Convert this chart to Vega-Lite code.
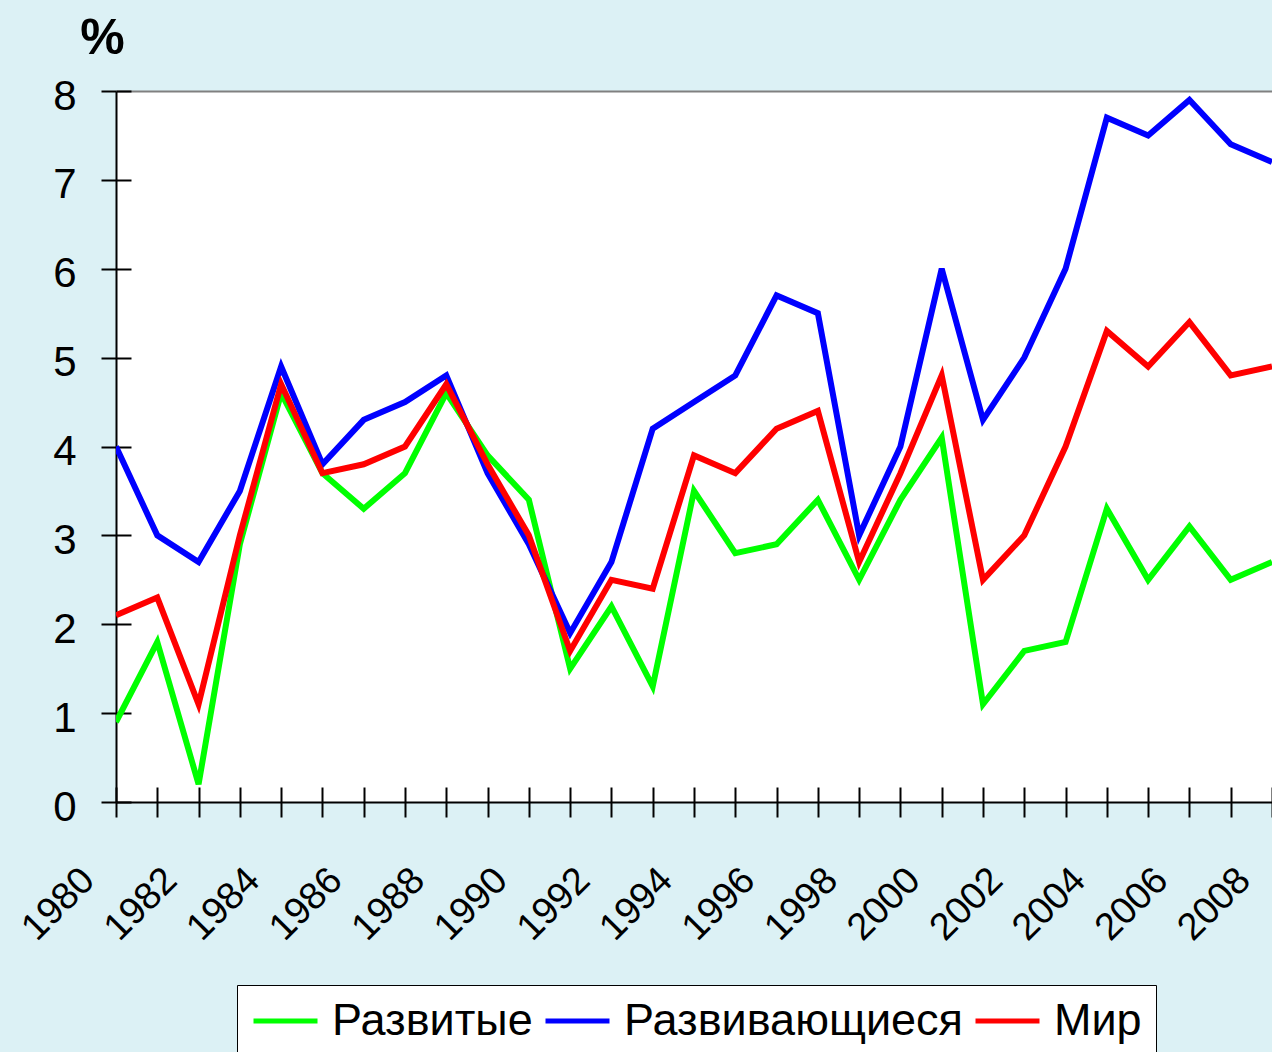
{
  "$schema": "https://vega.github.io/schema/vega-lite/v6.json",
  "width": 1156,
  "height": 711,
  "autosize": {"type": "none"},
  "padding": {"left": 116, "top": 91, "right": 0, "bottom": 250},
  "background": "#dcf1f5",
  "config": {
    "view": {"fill": "white", "stroke": null},
    "font": "Liberation Sans"
  },
  "data": {"values": [
    {"year":1980,"series":"Развитые","value":0.9},{"year":1981,"series":"Развитые","value":1.8},{"year":1982,"series":"Развитые","value":0.2},{"year":1983,"series":"Развитые","value":2.9},{"year":1984,"series":"Развитые","value":4.6},{"year":1985,"series":"Развитые","value":3.7},{"year":1986,"series":"Развитые","value":3.3},{"year":1987,"series":"Развитые","value":3.7},{"year":1988,"series":"Развитые","value":4.6},{"year":1989,"series":"Развитые","value":3.9},{"year":1990,"series":"Развитые","value":3.4},{"year":1991,"series":"Развитые","value":1.5},{"year":1992,"series":"Развитые","value":2.2},{"year":1993,"series":"Развитые","value":1.3},{"year":1994,"series":"Развитые","value":3.5},{"year":1995,"series":"Развитые","value":2.8},{"year":1996,"series":"Развитые","value":2.9},{"year":1997,"series":"Развитые","value":3.4},{"year":1998,"series":"Развитые","value":2.5},{"year":1999,"series":"Развитые","value":3.4},{"year":2000,"series":"Развитые","value":4.1},{"year":2001,"series":"Развитые","value":1.1},{"year":2002,"series":"Развитые","value":1.7},{"year":2003,"series":"Развитые","value":1.8},{"year":2004,"series":"Развитые","value":3.3},{"year":2005,"series":"Развитые","value":2.5},{"year":2006,"series":"Развитые","value":3.1},{"year":2007,"series":"Развитые","value":2.5},{"year":2008,"series":"Развитые","value":2.7},
    {"year":1980,"series":"Развивающиеся","value":4.0},{"year":1981,"series":"Развивающиеся","value":3.0},{"year":1982,"series":"Развивающиеся","value":2.7},{"year":1983,"series":"Развивающиеся","value":3.5},{"year":1984,"series":"Развивающиеся","value":4.9},{"year":1985,"series":"Развивающиеся","value":3.8},{"year":1986,"series":"Развивающиеся","value":4.3},{"year":1987,"series":"Развивающиеся","value":4.5},{"year":1988,"series":"Развивающиеся","value":4.8},{"year":1989,"series":"Развивающиеся","value":3.7},{"year":1990,"series":"Развивающиеся","value":2.9},{"year":1991,"series":"Развивающиеся","value":1.9},{"year":1992,"series":"Развивающиеся","value":2.7},{"year":1993,"series":"Развивающиеся","value":4.2},{"year":1994,"series":"Развивающиеся","value":4.5},{"year":1995,"series":"Развивающиеся","value":4.8},{"year":1996,"series":"Развивающиеся","value":5.7},{"year":1997,"series":"Развивающиеся","value":5.5},{"year":1998,"series":"Развивающиеся","value":3.0},{"year":1999,"series":"Развивающиеся","value":4.0},{"year":2000,"series":"Развивающиеся","value":6.0},{"year":2001,"series":"Развивающиеся","value":4.3},{"year":2002,"series":"Развивающиеся","value":5.0},{"year":2003,"series":"Развивающиеся","value":6.0},{"year":2004,"series":"Развивающиеся","value":7.7},{"year":2005,"series":"Развивающиеся","value":7.5},{"year":2006,"series":"Развивающиеся","value":7.9},{"year":2007,"series":"Развивающиеся","value":7.4},{"year":2008,"series":"Развивающиеся","value":7.2},
    {"year":1980,"series":"Мир","value":2.1},{"year":1981,"series":"Мир","value":2.3},{"year":1982,"series":"Мир","value":1.1},{"year":1983,"series":"Мир","value":3.0},{"year":1984,"series":"Мир","value":4.7},{"year":1985,"series":"Мир","value":3.7},{"year":1986,"series":"Мир","value":3.8},{"year":1987,"series":"Мир","value":4.0},{"year":1988,"series":"Мир","value":4.7},{"year":1989,"series":"Мир","value":3.8},{"year":1990,"series":"Мир","value":3.0},{"year":1991,"series":"Мир","value":1.7},{"year":1992,"series":"Мир","value":2.5},{"year":1993,"series":"Мир","value":2.4},{"year":1994,"series":"Мир","value":3.9},{"year":1995,"series":"Мир","value":3.7},{"year":1996,"series":"Мир","value":4.2},{"year":1997,"series":"Мир","value":4.4},{"year":1998,"series":"Мир","value":2.7},{"year":1999,"series":"Мир","value":3.7},{"year":2000,"series":"Мир","value":4.8},{"year":2001,"series":"Мир","value":2.5},{"year":2002,"series":"Мир","value":3.0},{"year":2003,"series":"Мир","value":4.0},{"year":2004,"series":"Мир","value":5.3},{"year":2005,"series":"Мир","value":4.9},{"year":2006,"series":"Мир","value":5.4},{"year":2007,"series":"Мир","value":4.8},{"year":2008,"series":"Мир","value":4.9}
  ]},
  "layer": [
    {
      "mark": {"type": "line", "strokeWidth": 6, "clip": true},
      "encoding": {
        "x": {
          "field": "year", "type": "quantitative",
          "scale": {"domain": [1980, 2008], "nice": false, "zero": false},
          "axis": {
            "orient": "bottom",
            "values": [1980,1981,1982,1983,1984,1985,1986,1987,1988,1989,1990,1991,1992,1993,1994,1995,1996,1997,1998,1999,2000,2001,2002,2003,2004,2005,2006,2007,2008],
            "format": "d",
            "labelExpr": "datum.value % 2 == 0 ? datum.label : ''",
            "labelAngle": -45, "labelAlign": "right", "labelBaseline": "alphabetic",
            "labelFontSize": 38, "labelColor": "black", "labelOffset": -20, "labelPadding": 65,
            "labelOverlap": false, "labelBound": false, "labelFlush": false,
            "tickSize": 15, "tickWidth": 2, "tickColor": "black",
            "domainColor": "black", "domainWidth": 2,
            "grid": false, "title": null
          }
        },
        "y": {
          "field": "value", "type": "quantitative",
          "scale": {"domain": [0, 8], "nice": false},
          "axis": {
            "orient": "left",
            "values": [0,1,2,3,4,5,6,7,8],
            "labelFontSize": 42, "labelColor": "black", "labelPadding": 25, "labelOffset": 5, "labelFlush": false,
            "tickSize": 15, "tickWidth": 2, "tickColor": "black",
            "domainColor": "black", "domainWidth": 2, "grid": false,
            "title": "%", "titleAngle": 0, "titleFontSize": 50, "titleFontWeight": "bold",
            "titleColor": "black", "titleX": -14, "titleY": -38,
            "titleAlign": "center", "titleBaseline": "alphabetic"
          }
        },
        "color": {
          "field": "series", "type": "nominal",
          "scale": {"domain": ["Развитые", "Развивающиеся", "Мир"], "range": ["#00ff00", "#0000ff", "#ff0000"]},
          "legend": {
            "orient": "none", "legendX": 121, "legendY": 894,
            "direction": "horizontal", "title": null,
            "symbolType": "stroke", "symbolSize": 4096, "symbolStrokeWidth": 5,
            "clipHeight": 44,
            "labelFontSize": 45, "labelColor": "black", "labelOffset": 12,
            "columnPadding": 10, "padding": 14,
            "fillColor": "white", "strokeColor": "black",
            "labelLimit": 500
          }
        }
      }
    },
    {
      "mark": {"type": "line", "strokeOpacity": 0},
      "encoding": {
        "x": {
          "field": "year", "type": "quantitative",
          "axis": {
            "orient": "bottom",
            "values": [1980,1981,1982,1983,1984,1985,1986,1987,1988,1989,1990,1991,1992,1993,1994,1995,1996,1997,1998,1999,2000,2001,2002,2003,2004,2005,2006,2007,2008],
            "labels": false, "domain": false, "grid": false, "title": null,
            "tickSize": -15, "tickWidth": 2, "tickColor": "black"
          }
        },
        "y": {
          "field": "value", "type": "quantitative",
          "axis": {
            "orient": "left", "values": [0,1,2,3,4,5,6,7,8],
            "labels": false, "domain": false, "grid": false, "title": null,
            "tickSize": -15, "tickWidth": 2, "tickColor": "black"
          }
        },
        "detail": {"field": "series"}
      }
    },
    {
      "mark": {"type": "line", "strokeOpacity": 0},
      "encoding": {
        "x": {
          "field": "year", "type": "quantitative",
          "axis": {
            "orient": "top", "labels": false, "ticks": false, "grid": false, "title": null,
            "domain": true, "domainColor": "#808080", "domainWidth": 2
          }
        },
        "y": {"field": "value", "type": "quantitative", "axis": null},
        "detail": {"field": "series"}
      }
    }
  ],
  "resolve": {"axis": {"x": "independent", "y": "independent"}}
}
